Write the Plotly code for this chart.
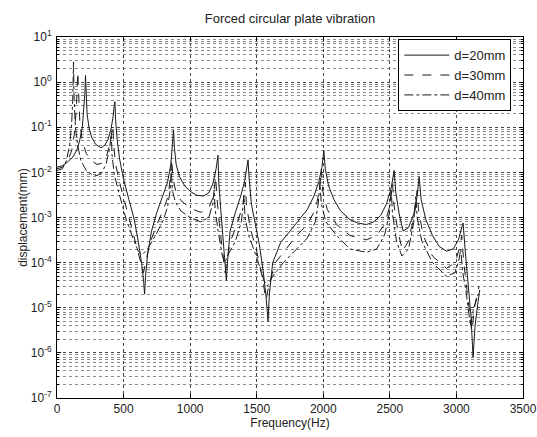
import plotly.graph_objects as go

# ---- data (frequency in Hz, displacement in mm) ----
f_d20 = [0, 40, 80, 120, 150, 170, 190, 203, 210, 214, 219, 226, 240, 260, 290, 330, 360, 385, 405, 420,
         430, 435, 440, 450, 470, 500, 540, 580, 610, 635, 650, 658, 665, 680, 710, 750, 790, 830, 855,
         868, 875, 882, 895, 920, 960, 1000, 1050, 1100, 1140, 1170, 1195, 1209, 1215, 1230, 1250, 1265,
         1272, 1280, 1300, 1340, 1380, 1410, 1428, 1435, 1442, 1460, 1490, 1520, 1550, 1570, 1585, 1595,
         1620, 1680, 1750, 1820, 1880, 1930, 1965, 1990, 2004, 2015, 2040, 2080, 2130, 2200, 2260, 2325,
         2380, 2430, 2475, 2510, 2532, 2545, 2570, 2600, 2640, 2680, 2705, 2720, 2735, 2770, 2820, 2870,
         2925, 2975, 3015, 3040, 3050, 3065, 3090, 3110, 3125, 3140, 3160, 3175]
v_d20 = [0.013, 0.014, 0.017, 0.022, 0.032, 0.05, 0.1, 0.25, 0.6, 1.4, 0.5, 0.2, 0.1, 0.06, 0.042, 0.035,
         0.04, 0.055, 0.09, 0.16, 0.3, 0.37, 0.15, 0.06, 0.02, 0.007, 0.0025, 0.0009, 0.0003, 0.0001,
         0.00004, 0.00002, 0.00005, 0.00015, 0.0005, 0.0013, 0.0028, 0.006, 0.015, 0.04, 0.087, 0.035,
         0.015, 0.008, 0.005, 0.0038, 0.0031, 0.003, 0.0035, 0.0055, 0.012, 0.024, 0.006, 0.0015, 0.0003,
         0.00008, 0.00004, 0.0001, 0.0005, 0.0013, 0.003, 0.0065, 0.013, 0.019, 0.008, 0.002, 0.0007,
         0.00025, 0.00006, 0.000018, 0.000005, 0.00002, 0.0001, 0.00028, 0.0005, 0.0009, 0.0015, 0.003,
         0.006, 0.013, 0.031, 0.012, 0.005, 0.0025, 0.0014, 0.0009, 0.00075, 0.0007, 0.0008, 0.0011,
         0.002, 0.0045, 0.011, 0.0035, 0.0012, 0.0005, 0.0006, 0.0012, 0.003, 0.008, 0.0025, 0.0009,
         0.0004, 0.00023, 0.00018, 0.0002, 0.00032, 0.0006, 0.00076, 0.0002, 0.00003, 0.000006,
         0.0000008, 0.000004, 0.000012, 0.000025]

f_d30 = [0, 40, 80, 110, 130, 145, 156, 162, 172, 190, 220, 260, 300, 340, 370, 395, 412, 420, 426, 440,
         470, 520, 570, 610, 640, 650, 665, 700, 750, 800, 835, 852, 862, 870, 890, 930, 1000, 1080, 1140,
         1175, 1192, 1200, 1220, 1245, 1262, 1275, 1300, 1350, 1395, 1415, 1422, 1450, 1500, 1540, 1570,
         1590, 1640, 1720, 1800, 1880, 1940, 1972, 1985, 1995, 2030, 2100, 2200, 2325, 2400, 2460, 2500,
         2520, 2530, 2560, 2595, 2640, 2685, 2705, 2715, 2750, 2820, 2925, 2990, 3025, 3040, 3055, 3080,
         3115, 3140, 3170]
v_d30 = [0.012, 0.013, 0.018, 0.03, 0.07, 0.25, 1.7, 0.4, 0.12, 0.05, 0.026, 0.018, 0.015, 0.016, 0.022,
         0.04, 0.07, 0.11, 0.04, 0.015, 0.006, 0.0017, 0.0005, 0.00018, 0.00008, 0.00006, 0.0001, 0.00028,
         0.0007, 0.0015, 0.003, 0.008, 0.02, 0.008, 0.004, 0.0024, 0.0016, 0.0013, 0.0016, 0.003, 0.008,
         0.003, 0.0007, 0.00015, 0.00006, 0.0001, 0.00028, 0.0007, 0.0018, 0.006, 0.002, 0.0006, 0.00018,
         0.00005, 0.000015, 0.00003, 0.0001, 0.0002, 0.0004, 0.0007, 0.0015, 0.004, 0.012, 0.004, 0.0015,
         0.0007, 0.0004, 0.00032, 0.0004, 0.0007, 0.0018, 0.006, 0.002, 0.0005, 0.00018, 0.0003, 0.0012,
         0.004, 0.0015, 0.0004, 0.00014, 0.000075, 0.0001, 0.00022, 0.0004, 0.0001, 0.00002, 0.000003,
         0.000012, 0.00003]

f_d40 = [0, 40, 70, 95, 110, 118, 124, 128, 138, 155, 180, 220, 260, 300, 340, 370, 392, 408, 413, 430,
         460, 520, 570, 610, 640, 680, 740, 800, 830, 850, 858, 866, 890, 930, 1000, 1080, 1140, 1170,
         1180, 1188, 1210, 1240, 1260, 1290, 1340, 1385, 1405, 1412, 1440, 1500, 1555, 1580, 1620, 1700,
         1800, 1880, 1940, 1962, 1975, 1985, 2020, 2100, 2200, 2325, 2400, 2460, 2495, 2510, 2520, 2550,
         2590, 2640, 2680, 2695, 2705, 2740, 2820, 2925, 2990, 3020, 3032, 3048, 3075, 3105, 3130, 3165]
v_d40 = [0.011, 0.012, 0.018, 0.04, 0.12, 0.4, 2.8, 0.5, 0.1, 0.04, 0.018, 0.011, 0.009, 0.0085, 0.01,
         0.016, 0.03, 0.067, 0.025, 0.009, 0.004, 0.0009, 0.00035, 0.00018, 0.00015, 0.0002, 0.0004,
         0.0009, 0.0017, 0.004, 0.012, 0.004, 0.0022, 0.0014, 0.001, 0.0008, 0.001, 0.002, 0.004, 0.0015,
         0.0005, 0.00015, 0.0001, 0.00016, 0.0003, 0.0008, 0.003, 0.001, 0.0004, 0.00013, 0.00004,
         0.00003, 0.00005, 0.0001, 0.0002, 0.00035, 0.0008, 0.002, 0.006, 0.002, 0.0008, 0.0004, 0.0002,
         0.00017, 0.0002, 0.0004, 0.0012, 0.004, 0.0012, 0.0003, 0.00014, 0.0002, 0.0008, 0.003, 0.001,
         0.0003, 0.0001, 0.00005, 0.00006, 0.00012, 0.0002, 0.00006, 0.00002, 0.000004, 0.00001, 0.00002]

series_names = ["d=20mm", "d=30mm", "d=40mm"]
x_ticks = [0, 500, 1000, 1500, 2000, 2500, 3000, 3500]
y_tickvals = [1e-7, 1e-6, 1e-5, 1e-4, 1e-3, 1e-2, 1e-1, 1e0, 1e1]
y_ticktext = ["10<sup>-7</sup>", "10<sup>-6</sup>", "10<sup>-5</sup>", "10<sup>-4</sup>",
              "10<sup>-3</sup>", "10<sup>-2</sup>", "10<sup>-1</sup>", "10<sup>0</sup>", "10<sup>1</sup>"]

minor_vals = [k * 10.0 ** e for e in range(-7, 1) for k in range(2, 10)]

FONT = "Liberation Sans, Arial, sans-serif"
LC = "#1a1a1a"

fig = go.Figure()
for fx, vy, name, dash in [(f_d20, v_d20, series_names[0], "solid"),
                           (f_d30, v_d30, series_names[1], "dash"),
                           (f_d40, v_d40, series_names[2], "dashdot")]:
    fig.add_trace(go.Scatter(x=fx, y=vy, mode="lines", name=name,
                             line=dict(color=LC, width=1, dash=dash)))

fig.update_layout(
    width=537, height=437,
    margin=dict(l=57, r=14, t=37, b=39, autoexpand=False),
    paper_bgcolor="white", plot_bgcolor="white",
    font=dict(family=FONT, size=12, color="#222"),
    title=dict(text="Forced circular plate vibration", x=0.5, xref="paper",
               y=1 - 18 / 437, yanchor="middle", font=dict(size=13, color="#222")),
    showlegend=True,
    legend=dict(x=0.975, xanchor="right", y=0.994, yanchor="top",
                bgcolor="white", bordercolor="black", borderwidth=1,
                font=dict(size=13, color="#222"), itemwidth=45,
                tracegroupgap=0),
)

fig.update_xaxes(
    range=[0, 3500], tickvals=x_ticks, ticktext=[str(t) for t in x_ticks],
    showgrid=True, gridcolor="#444", griddash="dot", gridwidth=1,
    ticks="inside", ticklen=4, tickcolor="black",
    showline=True, linecolor="black", linewidth=1, mirror="ticks",
    zeroline=False, automargin=False,
    title=dict(text="Frequency(Hz)", standoff=2, font=dict(size=12)),
    tickfont=dict(size=12, color="#222"),
)
fig.update_yaxes(
    type="log", range=[-7, 1], tickvals=y_tickvals, ticktext=y_ticktext,
    showgrid=True, gridcolor="#444", griddash="dot", gridwidth=1,
    ticks="inside", ticklen=4, tickcolor="black",
    showline=True, linecolor="black", linewidth=1, mirror="allticks",
    automargin=False, ticklabelstandoff=2,
    minor=dict(tickmode="array", tickvals=minor_vals, showgrid=True,
               gridcolor="#8a8a8a", griddash="dot", gridwidth=1,
               ticks="inside", ticklen=2, tickcolor="black"),
    title=dict(text="displacement(mm)", standoff=0, font=dict(size=12)),
    tickfont=dict(size=12, color="#222"),
)

fig.write_html("out.html")
